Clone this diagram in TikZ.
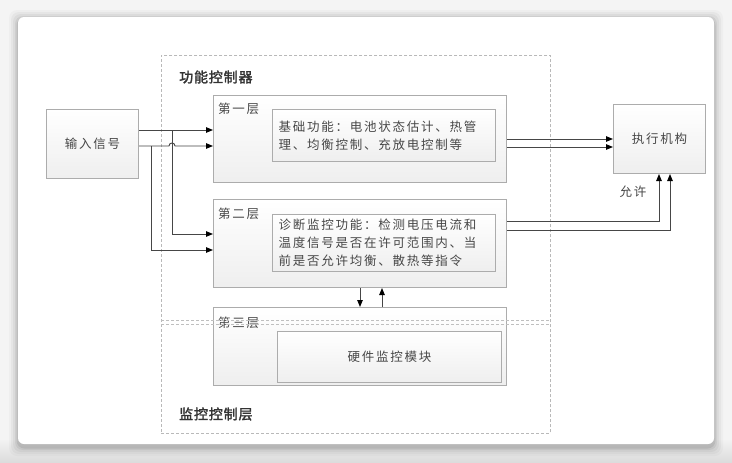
\documentclass[tikz,border=0pt]{standalone}
\usepackage{fontspec}
\setmainfont{Noto Sans CJK SC}
\newfontfamily\cjk[LetterSpace=14]{Noto Sans CJK SC}
\newfontfamily\cjkb[LetterSpace=6,FakeBold=2]{Noto Sans CJK SC}
\usetikzlibrary{arrows.meta}
\begin{document}
\begin{tikzpicture}[x=1pt,y=-1pt,
  txt/.style={text=black!72, font=\cjk\fontsize{12.5}{18}\selectfont},
  head/.style={text=black!80, font=\cjkb\fontsize{14}{16}\selectfont, anchor=west, inner sep=0pt},
  blk/.style={draw=gray!65, line width=1pt, top color=white, bottom color=gray!13, inner sep=0pt, anchor=north west},
  inblk/.style={blk, txt, align=left, text width=#1, inner xsep=6pt},
  lbl/.style={txt, anchor=west, inner sep=0pt},
  frame/.style={draw=gray!55, line width=0.7pt, dash pattern=on 3pt off 2pt, inner sep=0pt, anchor=north west},
  dashln/.style={draw=gray!50, line width=0.7pt, dash pattern=on 3pt off 2pt},
  wire/.style={draw=gray!55!black, line width=0.9pt},
  arr/.style={wire, -{Triangle[length=7pt,width=5.5pt,color=black]}}
]
% background and card
\useasboundingbox (0,0) rectangle (732,463);
\fill[gray!9] (0,0) rectangle (732,463);
\shade[top color=gray!10, bottom color=gray!28] (0,440) rectangle (732,463);
\foreach \d/\o in {9/0.025,7/0.035,5/0.045,3/0.06,1.5/0.08}{
  \fill[black, opacity=\o, rounded corners=8pt] (18-\d,17-\d+2) rectangle (714+\d,444+\d+3);
}
\fill[white, rounded corners=6pt] (18,17) rectangle (714,444);

% frames
\node[frame, minimum width=389pt, minimum height=378pt] (outer) at (161,55) {};
\node[head] (h1) at (179,77) {功能控制器};
\node[head] (h2) at (179,414) {监控控制层};

% blocks
\node[blk, txt, minimum width=92pt, minimum height=69pt, anchor=north west] (in) at (46,109) {输入信号};
\node[blk, txt, minimum width=92pt, minimum height=69pt, anchor=north west] (ex) at (613,104) {执行机构};

\node[blk, minimum width=293pt, minimum height=87pt] (l1) at (213,95) {};
\node[lbl] (t1) at (218,109) {第一层};
\node[inblk=211pt, minimum height=52pt] (i1) at (272,109) {基础功能：电池状态估计、热管\\理、均衡控制、充放电控制等};

\node[blk, minimum width=293pt, minimum height=88pt] (l2) at (213,199) {};
\node[lbl] (t2) at (218,214) {第二层};
\node[inblk=211pt, minimum height=57pt] (i2) at (272,214) {诊断监控功能：检测电压电流和\\温度信号是否在许可范围内、当\\前是否允许均衡、散热等指令};

\node[blk, minimum width=293pt, minimum height=78pt] (l3) at (213,307) {};
\node[lbl] (t3) at (218,323) {第三层};
\draw[dashln] (outer.west |- 0,320) -- (outer.east |- 0,320);
\draw[dashln] (outer.west |- 0,324) -- (outer.east |- 0,324);
\node[blk, txt, minimum width=224pt, minimum height=51pt] (i3) at (277,331) {硬件监控模块};

% input wires
\draw[arr] (in.east |- 0,130) -- (l1.west |- 0,130);
\draw[arr] (in.east |- 0,146) -- (169,146) .. controls (169,142) and (175,142) .. (175,146) -- (l1.west |- 0,146);
\draw[arr] (172,130) -- (172,234) -- (l2.west |- 0,234);
\draw[arr] (151,146) -- (151,250) -- (l2.west |- 0,250);

% to actuator
\draw[arr] (l1.east |- 0,139) -- (ex.west |- 0,139);
\draw[arr] (l1.east |- 0,147) -- (ex.west |- 0,147);
\draw[arr] (l2.east |- 0,221) -| (ex.south -| 659,0);
\draw[arr] (l2.east |- 0,230) -| (ex.south -| 670,0);
\node[txt, inner sep=0pt] (ok) at (633,192) {允许};

% layer 2 <-> layer 3
\draw[arr] (l2.south -| 360,0) -- (l3.north -| 360,0);
\draw[arr] (l3.north -| 382,0) -- (l2.south -| 382,0);
\end{tikzpicture}
\end{document}
